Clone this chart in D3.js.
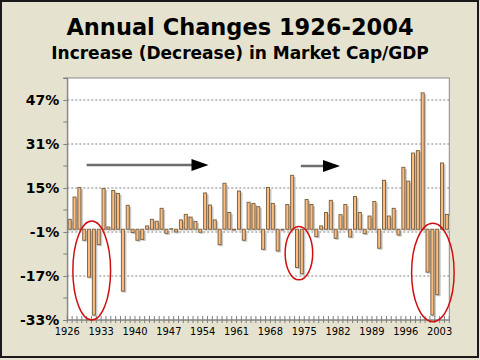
<!DOCTYPE html>
<html><head><meta charset="utf-8">
<script src="https://cdn.jsdelivr.net/npm/d3@7"></script>
<style>html,body{margin:0;padding:0;background:#e5e3cf;}svg{display:block;}</style>
</head><body>
<svg id="c" width="480" height="360"></svg>
<script>
const years = [1926,1927,1928,1929,1930,1931,1932,1933,1934,1935,1936,1937,1938,1939,1940,1941,1942,1943,1944,1945,1946,1947,1948,1949,1950,1951,1952,1953,1954,1955,1956,1957,1958,1959,1960,1961,1962,1963,1964,1965,1966,1967,1968,1969,1970,1971,1972,1973,1974,1975,1976,1977,1978,1979,1980,1981,1982,1983,1984,1985,1986,1987,1988,1989,1990,1991,1992,1993,1994,1995,1996,1997,1998,1999,2000,2001,2002,2003,2004];
const changes = [3.6,11.7,15.2,-4.0,-17.4,-31.2,-5.6,14.8,0.8,14.1,13.0,-22.5,8.7,-1.2,-4.0,-3.7,1.2,3.6,2.9,7.6,-1.5,0.2,-1.0,3.4,5.4,4.4,2.8,-1.1,13.2,8.8,3.4,-5.6,16.7,6.1,-0.3,13.9,-4.0,9.8,9.4,8.2,-7.3,15.2,9.4,-7.9,-0.3,9.0,19.6,-13.9,-16.2,10.8,9.0,-2.7,1.2,6.1,10.5,-3.3,5.3,9.0,-2.8,11.9,6.1,-1.6,4.8,10.1,-6.9,17.8,4.8,7.6,-2.1,22.5,17.5,27.7,28.6,49.6,-15.6,-31.2,-23.8,24.1,5.4];
const yTicks = [-33,-17,-1,15,31,47];
const yMinor = [-25,-9,7,23,39,55];
const xLabels = [1926,1933,1940,1947,1954,1961,1968,1975,1982,1989,1996,2003];
const titleText = "Annual Changes 1926-2004";
const subtitleText = "Increase (Decrease) in Market Cap/GDP";
// annotations in data units: [fromYearOffset, toYearOffset, value]
const arrows = [[4.0, 29.2, 23.4],[48.3, 56.4, 23.0]];
// ellipses: [center offset (bands), value center, rx (bands), ry (%)]
const ellipses = [[5.05, -15, 3.9, 18],[47.9, -8.7, 2.85, 9.7],[75.6, -15.7, 4.4, 17.9]];

const svg = d3.select("#c");
const L = 67.3, R = 449.3, T = 78, B = 320;

// background & frame
svg.append("rect").attr("x",0).attr("y",0).attr("width",480).attr("height",360).attr("fill","#e5e3cf");
svg.append("rect").attr("x",1).attr("y",1).attr("width",477).attr("height",356)
  .attr("fill","none").attr("stroke","#1a1a1a").attr("stroke-width",2);

// titles
svg.append("text").attr("x",240).attr("y",35).attr("text-anchor","middle")
  .attr("font-family","DejaVu Sans").attr("font-weight","bold").attr("font-size",22.5)
  .attr("fill","#000").text(titleText);
svg.append("text").attr("x",240).attr("y",59).attr("text-anchor","middle")
  .attr("font-family","DejaVu Sans").attr("font-weight","bold").attr("font-size",17)
  .attr("fill","#000").text(subtitleText);

const x = d3.scaleBand().domain(years).range([L,R]).paddingInner(0.17).paddingOuter(0.085);
const y = d3.scaleLinear().domain([-33,55]).range([B,T]);
const step = x.step();
const bandStart = i => L + i*step;

// plot area
svg.append("rect").attr("x",L).attr("y",T).attr("width",R-L).attr("height",B-T)
  .attr("fill","#ffffff").attr("stroke","#8a8a8a").attr("stroke-width",1);

// gridlines
svg.append("g").selectAll("line").data(yTicks.filter(d=>d>-33)).join("line")
  .attr("x1",L).attr("x2",R).attr("y1",d=>y(d)).attr("y2",d=>y(d))
  .attr("stroke","#808080").attr("stroke-width",1).attr("stroke-dasharray","2,2");

// bar shadows
const data = years.map((yr,i)=>({yr, v:changes[i]}));
svg.append("g").selectAll("rect").data(data).join("rect")
  .attr("x",d=>x(d.yr)+1.5).attr("y",d=>Math.min(y(d.v),y(0))+1.5)
  .attr("width",x.bandwidth()).attr("height",d=>Math.max(0.8,Math.abs(y(d.v)-y(0))))
  .attr("fill","#c9c9c9");
// bars
svg.append("g").selectAll("rect").data(data).join("rect")
  .attr("x",d=>x(d.yr)+0.5).attr("y",d=>Math.min(y(d.v),y(0)))
  .attr("width",x.bandwidth()-1).attr("height",d=>Math.max(0.5,Math.abs(y(d.v)-y(0))))
  .attr("fill","#fdbd7f").attr("stroke","#7d6548").attr("stroke-width",1);

// y axis
const ya = svg.append("g").attr("transform",`translate(${L},0)`)
  .call(d3.axisLeft(y).tickValues(yTicks).tickSize(4).tickPadding(4).tickFormat(d=>d+"%"));
ya.select(".domain").attr("stroke","#808080");
ya.selectAll(".tick line").attr("stroke","#808080");
ya.selectAll("text").attr("font-family","DejaVu Sans").attr("font-weight","bold")
  .attr("font-size",14).attr("fill","#000");
svg.append("g").selectAll("line").data(yMinor).join("line")
  .attr("x1",L-4).attr("x2",L).attr("y1",d=>y(d)).attr("y2",d=>y(d)).attr("stroke","#808080");

// x axis
svg.append("line").attr("x1",L).attr("x2",R).attr("y1",B).attr("y2",B).attr("stroke","#808080");
const tickIdx = d3.range(years.length+1);
svg.append("g").selectAll("line").data(tickIdx).join("line")
  .attr("x1",i=>bandStart(i)).attr("x2",i=>bandStart(i)).attr("y1",B-4).attr("y2",B+3)
  .attr("stroke","#808080");
svg.append("g").selectAll("text").data(xLabels).join("text")
  .attr("x",d=>bandStart(years.indexOf(d))).attr("y",B+15).attr("text-anchor","middle")
  .attr("font-family","DejaVu Sans Condensed, DejaVu Sans").attr("font-stretch","condensed")
  .attr("font-size",11).attr("fill","#000").text(d=>d);

// arrows
arrows.forEach(a=>{
  const x0 = bandStart(a[0]), x1 = bandStart(a[1]), yy = y(a[2]);
  svg.append("line").attr("x1",x0).attr("x2",x1-14).attr("y1",yy).attr("y2",yy)
    .attr("stroke","#6e6e6e").attr("stroke-width",2.5);
  svg.append("path").attr("d",`M${x1-17},${yy-6}L${x1},${yy}L${x1-17},${yy+6}Z`).attr("fill","#000");
});

// ellipses
svg.append("g").selectAll("ellipse").data(ellipses).join("ellipse")
  .attr("cx",d=>bandStart(d[0])).attr("cy",d=>y(d[1]))
  .attr("rx",d=>d[2]*step).attr("ry",d=>y(0)-y(d[3]))
  .attr("fill","none").attr("stroke","#d01010").attr("stroke-width",1.5);
</script>
</body></html>
